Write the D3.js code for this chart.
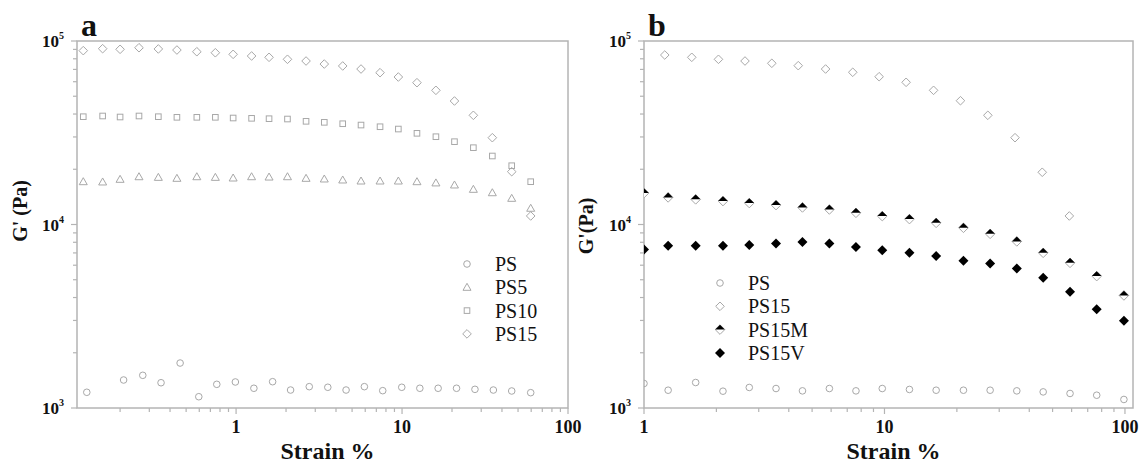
<!DOCTYPE html>
<html>
<head>
<meta charset="utf-8">
<script src="https://cdn.jsdelivr.net/npm/d3@7"></script>
<style>
  body { margin: 0; background: #fff; }
</style>
</head>
<body>
<svg id="chart" width="1139" height="465" font-family="'Liberation Serif', 'Times New Roman', Times, serif"></svg>
<script>
// panel a - strain values (%)
var strainA = [0.12, 0.157, 0.2, 0.26, 0.34, 0.44, 0.58, 0.75, 0.96, 1.24, 1.58, 2.04, 2.64,
  3.4, 4.39, 5.66, 7.37, 9.5, 12.3, 16, 20.7, 26.9, 35, 45.8, 59.6];
var strainPSa = [0.126, 0.21, 0.274, 0.353, 0.46, 0.596, 0.765, 0.99, 1.28, 1.66, 2.13, 2.76,
  3.57, 4.6, 5.93, 7.65, 9.96, 12.8, 16.5, 21.3, 27.5, 35.5, 45.8, 59.6];
var gPSa = [1218, 1421, 1507, 1373, 1758, 1152, 1346, 1386, 1281, 1391, 1253, 1307, 1297,
  1253, 1307, 1243, 1297, 1281, 1281, 1281, 1264, 1253, 1238, 1212];
var gPS5a = [17110, 17050, 17630, 18210, 18070, 17850, 18210, 18070, 17920, 18210, 18140, 18210,
  17850, 17700, 17480, 17260, 17260, 17260, 17110, 16850, 16420, 15550, 14900, 13890, 12260];
var gPS10a = [38680, 39020, 38530, 39020, 38680, 38380, 38380, 38380, 38050, 37900, 37720, 37570,
  36500, 36040, 35410, 34830, 34100, 33130, 31400, 30090, 28270, 26220, 23620, 20910, 17110];
var gPS15a = [88600, 90800, 90100, 91900, 90500, 89300, 87400, 86300, 84600, 82850, 81500, 79500,
  77800, 74900, 73100, 70360, 67200, 63640, 59260, 53850, 47100, 39360, 29720, 19400, 11130];

// panel b
var strainB15 = [1.22, 1.58, 2.04, 2.63, 3.4, 4.38, 5.69, 7.38, 9.5, 12.3, 16, 20.7, 26.9,
  34.9, 45.3, 58.7];
var gPS15b = [83880, 81490, 79480, 77800, 75610, 73380, 70360, 67540, 63880, 59550, 53850,
  47270, 39360, 29720, 19260, 11130];
var strainB = [1.0, 1.26, 1.64, 2.13, 2.74, 3.54, 4.56, 5.9, 7.61, 9.79, 12.7, 16.4, 21.3,
  27.5, 35.5, 45.7, 59.1, 76.3, 99];
var gPSb = [1360, 1250, 1377, 1235, 1294, 1277, 1240, 1277, 1240, 1277, 1262, 1250, 1250,
  1250, 1240, 1224, 1200, 1174, 1113];
var gPS15Mb = [14830, 14050, 13710, 13420, 13090, 12760, 12390, 12080, 11580, 11110, 10700,
  10210, 9594, 8898, 8088, 7011, 6182, 5232, 4106];
var gPS15Vb = [7313, 7652, 7652, 7652, 7720, 7887, 8017, 7887, 7530, 7250, 7011, 6727, 6340,
  6136, 5763, 5121, 4295, 3456, 2985];

var legendA = ["PS", "PS5", "PS10", "PS15"];
var legendB = ["PS", "PS15", "PS15M", "PS15V"];

var svg = d3.select("#chart");
var serif = "'Liberation Serif', 'Times New Roman', Times, serif";
var grey = "#a8a8a8";
var axisCol = "#b4b4b4";

function diamondPath(x, y, d) {
  return "M" + x + "," + (y - d) + "L" + (x + d) + "," + y + "L" + x + "," + (y + d) +
    "L" + (x - d) + "," + y + "Z";
}

// marker drawing
function marker(g, type, x, y) {
  if (type == "circle") {
    g.append("circle").attr("cx", x).attr("cy", y).attr("r", 3.3)
      .attr("fill", "none").attr("stroke", grey).attr("stroke-width", 1);
  } else if (type == "triangle") {
    var s = 4;
    g.append("path").attr("d", "M" + x + "," + (y - s) + "L" + (x + s) + "," + (y + s * 0.75) +
        "L" + (x - s) + "," + (y + s * 0.75) + "Z")
      .attr("fill", "none").attr("stroke", grey).attr("stroke-width", 1);
  } else if (type == "square") {
    g.append("rect").attr("x", x - 2.8).attr("y", y - 2.8).attr("width", 5.6).attr("height", 5.6)
      .attr("fill", "none").attr("stroke", grey).attr("stroke-width", 1);
  } else if (type == "diamond") {
    g.append("path").attr("d", diamondPath(x, y, 4.3))
      .attr("fill", "none").attr("stroke", grey).attr("stroke-width", 1);
  } else if (type == "half") {
    var h = 4.8;
    g.append("path").attr("d", diamondPath(x, y, h))
      .attr("fill", "#fff").attr("stroke", grey).attr("stroke-width", 1);
    g.append("path").attr("d", "M" + x + "," + (y - h) + "L" + (x + h) + "," + y + "L" + (x - h) +
        "," + y + "Z")
      .attr("fill", "#000");
  } else if (type == "filled") {
    g.append("path").attr("d", diamondPath(x, y, 5)).attr("fill", "#000");
  }
}

function txt(g) {
  return g.append("text").attr("font-family", serif).attr("fill", "#111");
}

function panel(opt) {
  var g = svg.append("g");
  var x = d3.scaleLog().domain(opt.xdom).range([opt.left, opt.right]);
  var y = d3.scaleLog().domain([1000, 100000]).range([opt.bottom, opt.top]);

  // frame
  g.append("rect").attr("x", opt.left).attr("y", opt.top)
    .attr("width", opt.right - opt.left).attr("height", opt.bottom - opt.top)
    .attr("fill", "none").attr("stroke", axisCol).attr("stroke-width", 1.5);

  // y ticks
  var yt = [];
  for (var e = 3; e < 5; e++) for (var m = 1; m < 10; m++) yt.push(m * Math.pow(10, e));
  yt.push(100000);
  yt.forEach(function(v) {
    var major = Math.abs(Math.log10(v) % 1) < 1e-9;
    g.append("line").attr("x1", opt.left).attr("x2", opt.left - (major ? 6 : 4))
      .attr("y1", y(v)).attr("y2", y(v)).attr("stroke", axisCol).attr("stroke-width", 1.2);
    if (major) {
      var t = txt(g).attr("x", opt.left - 13).attr("y", y(v) + 6)
        .attr("text-anchor", "end").attr("font-weight", "bold").attr("font-size", 17);
      t.append("tspan").text("10");
      t.append("tspan").attr("dy", -8).attr("font-size", 10).text(Math.round(Math.log10(v)));
    }
  });

  // x ticks
  var xt = [];
  for (var e2 = -1; e2 < 3; e2++) for (var m2 = 1; m2 < 10; m2++) {
    var v2 = m2 * Math.pow(10, e2);
    if (v2 >= opt.xdom[0] - 1e-9 && v2 <= opt.xdom[1]) xt.push(v2);
  }
  xt.forEach(function(v) {
    var major = [0.1, 1, 10, 100].indexOf(+v.toPrecision(3)) >= 0;
    g.append("line").attr("x1", x(v)).attr("x2", x(v)).attr("y1", opt.bottom)
      .attr("y2", opt.bottom + (major ? 6 : 4)).attr("stroke", axisCol).attr("stroke-width", 1.2);
    if (major) {
      txt(g).attr("x", x(v)).attr("y", opt.bottom + 25).attr("text-anchor", "middle")
        .attr("font-weight", "bold").attr("font-size", 18).text(+v.toPrecision(3));
    }
  });

  // labels
  txt(g).attr("x", (opt.left + opt.right) / 2 + 5).attr("y", 459)
    .attr("text-anchor", "middle").attr("font-weight", "bold").attr("font-size", 24)
    .text("Strain %");
  txt(g).attr("transform", "translate(" + opt.ylx + "," + opt.yly + ") rotate(-90)")
    .attr("text-anchor", "middle").attr("font-weight", "bold").attr("font-size", 20)
    .text(opt.ylab);
  txt(g).attr("x", opt.left + 4).attr("y", opt.top - 5)
    .attr("font-weight", "bold").attr("font-size", 32).text(opt.title);

  // data
  var clipId = "clip" + opt.title;
  svg.append("clipPath").attr("id", clipId).append("rect")
    .attr("x", opt.left).attr("y", opt.top - 10)
    .attr("width", opt.right - opt.left + 10).attr("height", opt.bottom - opt.top + 10);
  var pts = g.append("g").attr("clip-path", "url(#" + clipId + ")");
  opt.series.forEach(function(s) {
    s.x.forEach(function(xv, i) {
      if (s.y[i] != null) marker(pts, s.type, x(xv), y(s.y[i]));
    });
  });

  // legend
  opt.legend.forEach(function(name, i) {
    var ly = opt.legY + i * 23.3;
    marker(g, opt.series[i].type, opt.legX, ly);
    txt(g).attr("x", opt.legX + 28).attr("y", ly + 7).attr("font-size", 20)
      .text(name);
  });
}

panel({
  title: "a", left: 77, right: 568, top: 41, bottom: 408, xdom: [0.11, 100],
  ylab: "G' (Pa)", ylx: 27, yly: 211, legX: 467, legY: 264, legend: legendA,
  series: [
    {type: "circle", x: strainPSa, y: gPSa},
    {type: "triangle", x: strainA, y: gPS5a},
    {type: "square", x: strainA, y: gPS10a},
    {type: "diamond", x: strainA, y: gPS15a}
  ]
});

panel({
  title: "b", left: 644, right: 1133, top: 41, bottom: 408, xdom: [1, 108],
  ylab: "G'(Pa)", ylx: 593, yly: 226, legX: 720, legY: 283, legend: legendB,
  series: [
    {type: "circle", x: strainB, y: gPSb},
    {type: "diamond", x: strainB15, y: gPS15b},
    {type: "half", x: strainB, y: gPS15Mb},
    {type: "filled", x: strainB, y: gPS15Vb}
  ]
});
</script>
</body>
</html>
